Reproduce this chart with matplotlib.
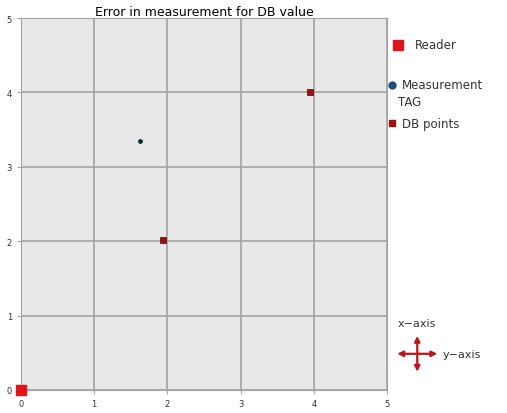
import matplotlib.pyplot as plt
from matplotlib.lines import Line2D

# data
reader_x = [0.0]
reader_y = [0.0]
meas_x = [1.63]
meas_y = [3.35]
db_x = [1.94, 3.95]
db_y = [2.02, 4.01]
ticks = [0, 1, 2, 3, 4, 5]

fig = plt.figure(figsize=(5.07, 4.14), dpi=100)
ax = fig.add_axes([0.0414, 0.0556, 0.7218, 0.8985])
ax.set_facecolor('#e8e8e8')
ax.set_xlim(0, 5)
ax.set_ylim(0, 5)
ax.set_xticks(ticks)
ax.set_yticks(ticks)
ax.grid(True, color='#a3a3a3', linewidth=1.2)
ax.set_axisbelow(True)
for s in ax.spines.values():
    s.set_color('#a3a3a3')
ax.tick_params(labelsize=6, colors='#333333', length=3, color='#a3a3a3')
ax.set_title("Error in measurement for DB value", fontsize=9, pad=2)

ax.scatter(reader_x, reader_y, marker='s', s=60, color='#e0141c', zorder=5, clip_on=False)
ax.scatter(meas_x, meas_y, marker='o', s=6, color='#0d2a2a', zorder=5)
ax.scatter(db_x, db_y, marker='s', s=22, color='#a01010', edgecolor='#600000',
           linewidth=0.5, zorder=5)

# legend drawn as text on the right
fig.text(0.766, 0.89, "", fontsize=9)
fig.add_artist(Line2D([0.785], [0.889], marker='s', markersize=7, color='#e0141c',
                      transform=fig.transFigure))
fig.text(0.818, 0.889, "Reader", fontsize=8.5, va='center', color='#333333')
fig.add_artist(Line2D([0.774], [0.793], marker='o', markersize=5, color='#1f4e79',
                      transform=fig.transFigure))
fig.text(0.792, 0.793, "Measurement", fontsize=8.5, va='center', color='#333333')
fig.text(0.785, 0.752, "TAG", fontsize=8.5, va='center', color='#333333')
fig.add_artist(Line2D([0.774], [0.700], marker='s', markersize=4.5, color='#a01010',
                      transform=fig.transFigure))
fig.text(0.792, 0.700, "DB points", fontsize=8.5, va='center', color='#333333')

# axis direction cross
fig.text(0.785, 0.217, "x\u2212axis", fontsize=8, va='center', color='#333333')
fig.text(0.874, 0.143, "y\u2212axis", fontsize=8, va='center', color='#333333')
cx, cy = 0.823, 0.143
kw = dict(arrowstyle='<|-|>', color='#c0141c', lw=1.6, mutation_scale=8)
ax.annotate('', xy=(cx - 0.045, cy), xytext=(cx + 0.045, cy), xycoords='figure fraction',
            textcoords='figure fraction', arrowprops=kw, annotation_clip=False)
ax.annotate('', xy=(cx, cy + 0.05), xytext=(cx, cy - 0.05), xycoords='figure fraction',
            textcoords='figure fraction', arrowprops=kw, annotation_clip=False)

fig.savefig("out.png", dpi=100)
